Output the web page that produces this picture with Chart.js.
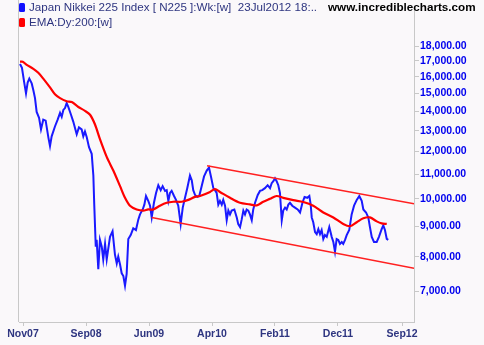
<!DOCTYPE html>
<html><head><meta charset="utf-8">
<script src="https://cdn.jsdelivr.net/npm/chart.js@4"></script>
<style>html,body{margin:0;padding:0;background:#faf8fa}canvas{display:block}</style>
</head><body>
<canvas id="c" width="484" height="345"></canvas>
<script>
// Weekly Nikkei 225 (week index from late Oct 2007)
const blueWeeks = [0,1.3,2.9,4,5.1,6.2,7.8,8.9,10,11.1,12.7,14,15.5,17.1,18.9,20,21.1,23.3,25.1,26.7,27.8,28.9,30,31.1,32.2,34,35.5,37.8,39.3,41.1,42.2,43.3,44.5,46,47.8,48.9,49.5,50.5,51.1,52.2,53.3,54.5,55.5,56.7,57.8,60,61.7,63.3,64.5,65.5,66.7,67.8,68.9,70,71.1,72.2,73.8,75.5,77.3,78.9,80,81.8,82.9,84,85.5,86.7,87.8,89.3,90.7,92.2,93.8,95.1,96.7,97.8,98.9,100,101.1,102.7,104,105.5,107.1,108.5,110,111.5,113.3,114.5,115.5,116.7,118.2,119.5,121.1,122.7,124.5,126,127.3,128.9,130,131.1,132.2,133.3,134.5,135.5,136.7,137.8,138.9,140,141.1,142.9,144.5,145.5,146.7,147.8,148.9,150,151.1,152.2,153.3,154.5,155.5,156.7,158.5,160,161.5,163.3,165.1,166.7,167.8,168.9,170,171.1,172.2,173.3,174.5,175.5,176.7,177.8,178.9,180,181.5,183.3,185.1,186.7,188.3,189.7,191.5,192.9,193.8,194.5,195.5,196.7,197.8,198.9,200,201.1,202.2,203.3,204.5,206.2,207.8,208.9,210,211.1,212.2,213.3,214.5,215.5,216.7,217.8,219.5,221.1,222.7,224.5,226.2,227.8,228.9,230.7,232.2,233.3,234.5,236,237.8,239.3,241.1,242.2,243.3,244.5,245.5];
const bluePrices = [16800,16550,15590,15000,15640,15880,15590,15180,14730,13970,13660,13060,13560,13510,12670,12250,12720,13210,13560,13920,13710,14080,14180,14450,14240,13820,13460,12820,13160,13060,12720,12960,12670,12200,11890,10940,9780,8320,8540,7630,8540,8320,7920,8410,7920,8640,8830,8070,7800,8010,7770,7510,7430,7160,7490,8570,8700,8930,8870,9240,9420,9600,9780,10110,9925,9740,9310,9850,10230,10540,10340,10500,10310,10340,9925,10230,10310,10110,9960,9740,9070,9670,10040,10420,10940,10740,10340,10150,10075,10110,10500,10900,11150,11280,10900,10420,10340,10230,9780,9925,9780,9960,9740,9210,9560,9420,9560,9600,9310,9070,8970,9240,9560,9420,9600,9560,9420,9210,9600,9850,10150,10310,10340,10420,10540,10420,10620,10700,10820,10700,10540,10230,9210,9560,9670,9600,9780,9850,9740,9670,9600,9490,9850,10075,10040,10110,9780,9310,9140,8800,8730,8900,8730,8870,8570,8700,8640,8970,8640,8470,8160,8570,8540,8410,8470,8410,8540,8700,8870,9420,9740,9960,10110,9925,9600,9490,9310,8970,8640,8470,8470,8640,8900,9030,8870,8570,8540];
// EMA:Dy:200
const emaWeeks = [0,1.8,4.5,8.9,12.2,15.5,20,23.3,26.7,31.1,34.5,38.9,43.3,46.7,50,53.3,57.8,62.2,66.7,70,73.3,77.8,82.2,85.5,88.9,93.3,97.8,102.2,107.8,112.2,116.7,120,126.7,130,133.3,140,146.7,153.3,157.8,162.2,166.7,171.1,175.5,182.2,188.9,195.5,202.2,208.9,215.5,220,224.5,228.9,233.3,237.8,241.1,244.5];
const emaPrices = [16950,16950,16740,16490,16240,15880,15350,14950,14730,14560,14510,14240,14030,13820,13310,12580,11750,11150,10500,10040,9740,9600,9560,9600,9600,9740,9850,9890,9890,9960,10075,10110,10270,10380,10270,10040,9850,9790,9750,9890,10000,10110,10040,9950,9880,9740,9490,9310,9080,9000,9140,9280,9310,9170,9100,9080];
// Trend channel
const upperWeeks = [124.7, 262.7];
const upperPrices = [11360, 9814];
const lowerWeeks = [87.8, 262.7];
const lowerPrices = [9310, 7657];
// Axes
const yTicks = [7000,8000,9000,10000,11000,12000,13000,14000,15000,16000,17000,18000];
const xTickWeeks = [2,44,86,128,170,212,254.7];
const xTickLabels = ['Nov07','Sep08','Jun09','Apr10','Feb11','Dec11','Sep12'];

const pts = (xs, ys) => xs.map((x, i) => ({x, y: ys[i]}));

const frame = {
  id: 'frame',
  afterDraw(chart) {
    const ctx = chart.ctx, a = chart.chartArea;
    ctx.save();
    ctx.strokeStyle = '#c8c8c8'; ctx.lineWidth = 1;
    ctx.beginPath(); ctx.moveTo(a.left - 0.5, 0); ctx.lineTo(a.left - 0.5, a.bottom); ctx.stroke();
    // legend
    const sq = (x, y, c) => { ctx.fillStyle = c; ctx.beginPath(); ctx.roundRect(x, y, 6, 9, 1.5); ctx.fill(); };
    sq(19, 3, '#1010ff'); sq(19, 18, '#ff0000');
    ctx.fillStyle = '#2e3580'; ctx.font = '11.6px "Liberation Sans", Arial, sans-serif';
    ctx.textBaseline = 'middle';
    ctx.fillText('Japan Nikkei 225 Index [ N225 ]:Wk:[w]  23Jul2012 18:..', 29, 8);
    ctx.fillText('EMA:Dy:200:[w]', 29, 23);
    ctx.fillStyle = '#000000'; ctx.font = 'bold 11.7px "Liberation Sans", Arial, sans-serif';
    ctx.fillText('www.incrediblecharts.com', 328, 8);
    ctx.restore();
  }
};

new Chart(document.getElementById('c'), {
  type: 'line',
  data: {
    datasets: [
      {data: pts(upperWeeks, upperPrices), borderColor: '#ff2020', borderWidth: 1.6, pointRadius: 0},
      {data: pts(lowerWeeks, lowerPrices), borderColor: '#ff2020', borderWidth: 1.6, pointRadius: 0},
      {data: pts(emaWeeks, emaPrices), borderColor: '#ff0000', borderWidth: 2.2, pointRadius: 0, tension: 0.3},
      {data: pts(blueWeeks, bluePrices), borderColor: '#1a1aff', borderWidth: 2, pointRadius: 0}
    ]
  },
  options: {
    responsive: false, animation: false, devicePixelRatio: 1,
    layout: {padding: {left: 19, top: 0, right: 0, bottom: 0}},
    plugins: {legend: {display: false}, tooltip: {enabled: false}},
    scales: {
      x: {
        type: 'linear', min: -0.67, max: 262.67,
        afterFit: s => { s.height = 23; },
        afterBuildTicks: s => { s.ticks = xTickWeeks.map(v => ({value: v})); },
        grid: {drawOnChartArea: false, drawTicks: true, tickLength: 4, color: '#c8c8c8'},
        border: {display: true, color: '#c8c8c8', width: 1},
        ticks: {
          autoSkip: false, maxRotation: 0, padding: 2,
          color: '#2e3580', font: {family: '"Liberation Sans", Arial, sans-serif', size: 10.5, weight: 'bold'},
          callback: (v, i) => xTickLabels[i]
        }
      },
      y: {
        type: 'logarithmic', position: 'right', min: 6227, max: 20893,
        afterFit: s => { s.width = 70; },
        afterBuildTicks: s => { s.ticks = yTicks.map(v => ({value: v})); },
        grid: {drawOnChartArea: false, drawTicks: true, tickLength: 5, color: '#c8c8c8'},
        border: {display: true, color: '#c8c8c8', width: 1},
        ticks: {
          autoSkip: false, padding: 1,
          color: '#0000ee', font: {family: '"Liberation Sans", Arial, sans-serif', size: 10.5, weight: 'bold'},
          callback: v => v.toLocaleString('en-US', {minimumFractionDigits: 2, maximumFractionDigits: 2})
        }
      }
    }
  },
  plugins: [frame]
});
</script>
</body></html>
